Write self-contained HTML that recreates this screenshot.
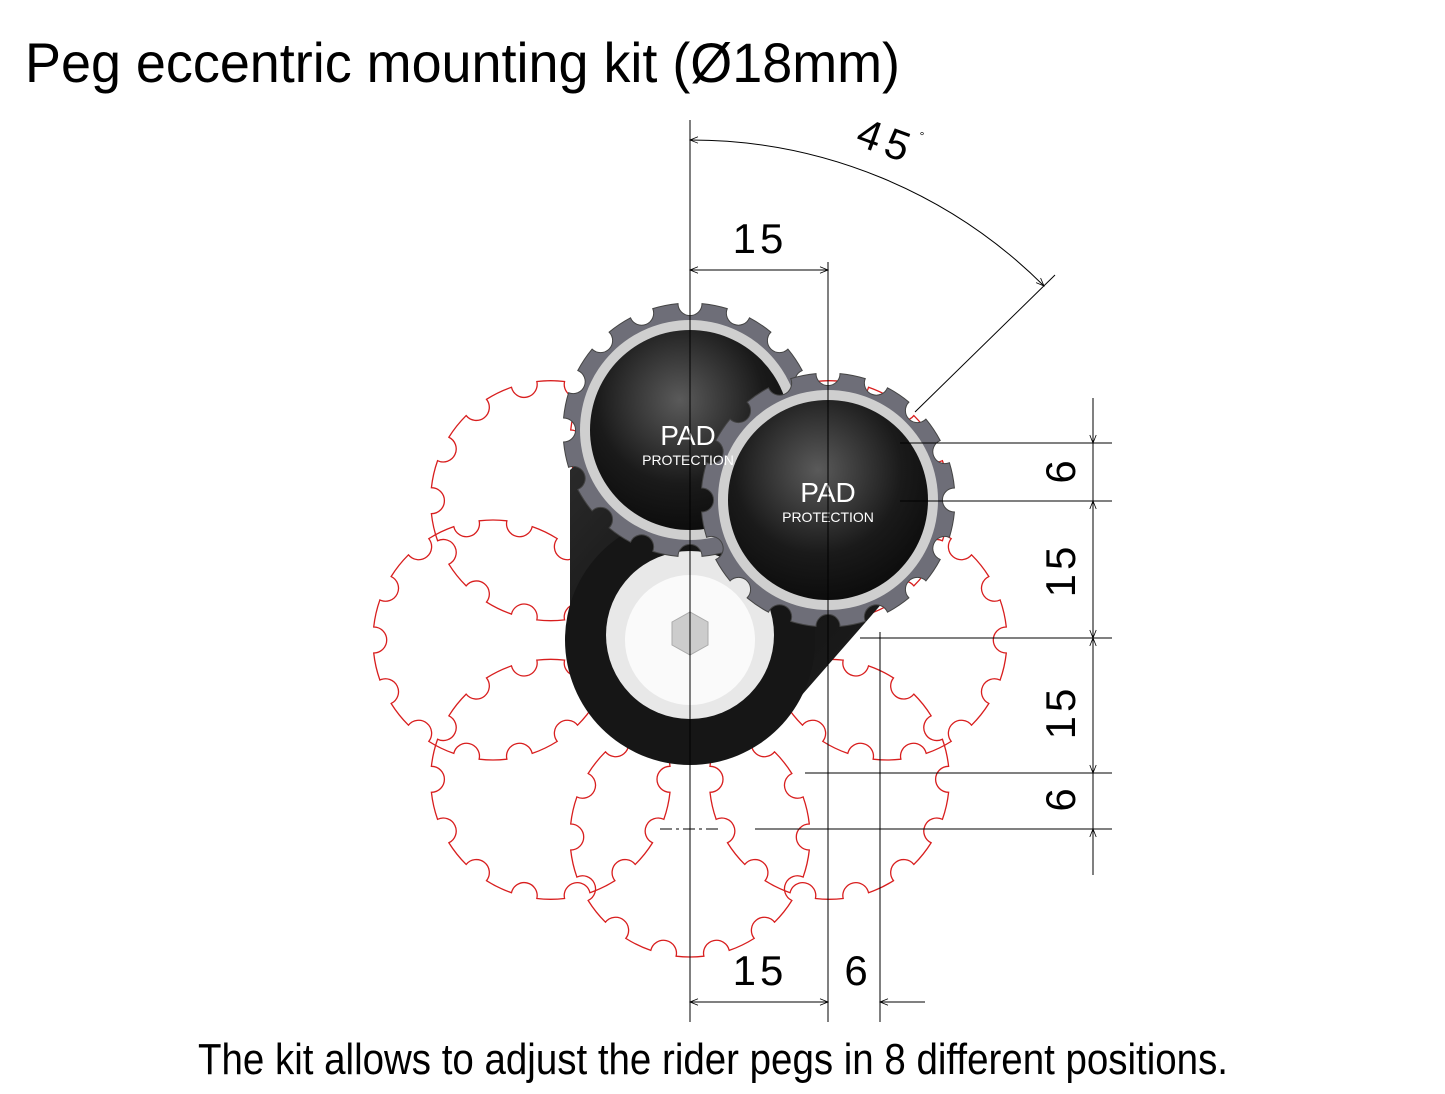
<!DOCTYPE html>
<html><head><meta charset="utf-8"><style>
html,body{margin:0;padding:0;background:#fff;}
svg{display:block}
</style></head><body>
<svg id="s" width="1445" height="1094" viewBox="0 0 1445 1094" xmlns="http://www.w3.org/2000/svg" font-family="Liberation Sans Narrow, Liberation Sans, sans-serif">
<defs>
<radialGradient id="pad" cx="0.45" cy="0.35" r="0.7">
<stop offset="0" stop-color="#5a5a5a"/><stop offset="0.6" stop-color="#1a1a1a"/><stop offset="1" stop-color="#0a0a0a"/>
</radialGradient>
<linearGradient id="body" x1="0" y1="0" x2="1" y2="1">
<stop offset="0" stop-color="#333"/><stop offset="0.5" stop-color="#111"/><stop offset="1" stop-color="#222"/>
</linearGradient>
<marker id="ar" viewBox="0 0 10 10" refX="10" refY="5" markerWidth="14" markerHeight="8" orient="auto-start-reverse" markerUnits="userSpaceOnUse"><path d="M0,1 L10,5 L0,9" fill="none" stroke="#000" stroke-width="1"/></marker>
</defs>
<text x="25" y="82" font-size="56" textLength="875" lengthAdjust="spacingAndGlyphs">Peg eccentric mounting kit (Ø18mm)</text>
<g id="red" fill="none" stroke="#d81e1e" stroke-width="1.3"></g>
<g>
<path d="M570,470 L690,360 L920,560 L780,720 A125,125 0 0 1 570,660 Z" fill="url(#body)"/>
<circle cx="690" cy="640" r="125" fill="#161616"/>
<circle cx="690" cy="635" r="84" fill="#e8e8e8"/>
<circle cx="690" cy="640" r="65" fill="#fafafa"/>
<polygon points="672,622 690,612 708,622 708,645 690,655 672,645" fill="#ccc" stroke="#aaa"/>
</g>
<g id="gears"></g>
<g fill="#fff" text-anchor="middle">
<text x="688" y="445" font-size="28" font-family="Liberation Sans, sans-serif">PAD</text>
<text x="688" y="465" font-size="14" font-family="Liberation Sans, sans-serif">PROTECTION</text>
<text x="828" y="502" font-size="28" font-family="Liberation Sans, sans-serif">PAD</text>
<text x="828" y="522" font-size="14" font-family="Liberation Sans, sans-serif">PROTECTION</text>
</g>
<g stroke="#000" stroke-width="1" fill="none">
<line x1="690" y1="120" x2="690" y2="1022"/>
<line x1="828" y1="262" x2="828" y2="1022"/>
<line x1="880" y1="632" x2="880" y2="1022"/>
<line x1="690" y1="270" x2="828" y2="270" marker-start="url(#ar)" marker-end="url(#ar)"/>
<path d="M690,140 A500,500 0 0 1 1044,286" marker-start="url(#ar)" marker-end="url(#ar)"/>
<line x1="1055" y1="275" x2="915" y2="412"/>
<line x1="900" y1="443" x2="1112" y2="443"/>
<line x1="900" y1="501" x2="1112" y2="501"/>
<line x1="860" y1="638" x2="1112" y2="638"/>
<line x1="805" y1="773" x2="1112" y2="773"/>
<line x1="755" y1="829" x2="1112" y2="829"/>
<line x1="1093" y1="398" x2="1093" y2="875"/>
<line x1="1093" y1="400" x2="1093" y2="443" marker-end="url(#ar)"/>
<line x1="1093" y1="501" x2="1093" y2="638" marker-start="url(#ar)" marker-end="url(#ar)"/>
<line x1="1093" y1="638" x2="1093" y2="773" marker-start="url(#ar)" marker-end="url(#ar)"/>
<line x1="1093" y1="872" x2="1093" y2="829" marker-end="url(#ar)"/>
<line x1="690" y1="1002" x2="828" y2="1002" marker-start="url(#ar)" marker-end="url(#ar)"/>
<line x1="925" y1="1002" x2="880" y2="1002" marker-end="url(#ar)"/>
<line x1="660" y1="829" x2="720" y2="829" stroke-dasharray="12,4,3,4"/>
</g>
<g font-family="Liberation Sans, sans-serif" font-size="42" text-anchor="middle">
<text x="760" y="253" letter-spacing="4">15</text>
<text x="760" y="985" letter-spacing="4">15</text>
<text x="856" y="985">6</text>
<text x="885" y="155" transform="rotate(20 885 145)" letter-spacing="6">45</text>
<text x="922" y="140" font-size="12">°</text>
<text transform="translate(1075,472) rotate(-90)">6</text>
<text transform="translate(1075,570) rotate(-90)" letter-spacing="4">15</text>
<text transform="translate(1075,712) rotate(-90)" letter-spacing="4">15</text>
<text transform="translate(1075,800) rotate(-90)">6</text>
</g>
<text x="198" y="1074" font-size="44" textLength="1030" lengthAdjust="spacingAndGlyphs">The kit allows to adjust the rider pegs in 8 different positions.</text>
</svg>
<script>
function gear(cx,cy,R,n,nr){
 var d="",step=2*Math.PI/n,a0=Math.asin(nr/R);
 for(var i=0;i<n;i++){
  var a=i*step, b=a+step-2*a0;
  var sx=cx+R*Math.cos(a+a0), sy=cy+R*Math.sin(a+a0);
  var ex=cx+R*Math.cos(b+a0), ey=cy+R*Math.sin(b+a0);
  var nx=cx+R*Math.cos(b+2*a0+0), ny=cy+R*Math.sin(b+2*a0);
  nx=cx+R*Math.cos(a+step+a0); ny=cy+R*Math.sin(a+step+a0);
  d+=(i==0?"M"+sx+","+sy:"")+" A"+R+","+R+" 0 0 1 "+ex+","+ey+" A"+nr+","+nr+" 0 0 0 "+nx+","+ny;
 }
 return d+"Z";
}
var ns="http://www.w3.org/2000/svg",red=document.getElementById("red");
for(var k=0;k<8;k++){
 var t=-Math.PI/2+k*Math.PI/4,x=690+197*Math.cos(t),y=640+197*Math.sin(t);
 var p=document.createElementNS(ns,"path");p.setAttribute("d",gear(x,y,120,14,13));red.appendChild(p);
}
var g=document.getElementById("gears");
[[690,430],[828,500]].forEach(function(c,i){
 var p=document.createElementNS(ns,"path");p.setAttribute("d",gear(c[0],c[1],127,16,12));
 p.setAttribute("fill","#6e6e78");p.setAttribute("stroke","#444");g.appendChild(p);
 var r=document.createElementNS(ns,"circle");r.setAttribute("cx",c[0]);r.setAttribute("cy",c[1]);r.setAttribute("r",110);r.setAttribute("fill","#cfcfcf");g.appendChild(r);
 var q=document.createElementNS(ns,"circle");q.setAttribute("cx",c[0]);q.setAttribute("cy",c[1]);q.setAttribute("r",100);q.setAttribute("fill","url(#pad)");g.appendChild(q);
});
</script>
</body></html>
